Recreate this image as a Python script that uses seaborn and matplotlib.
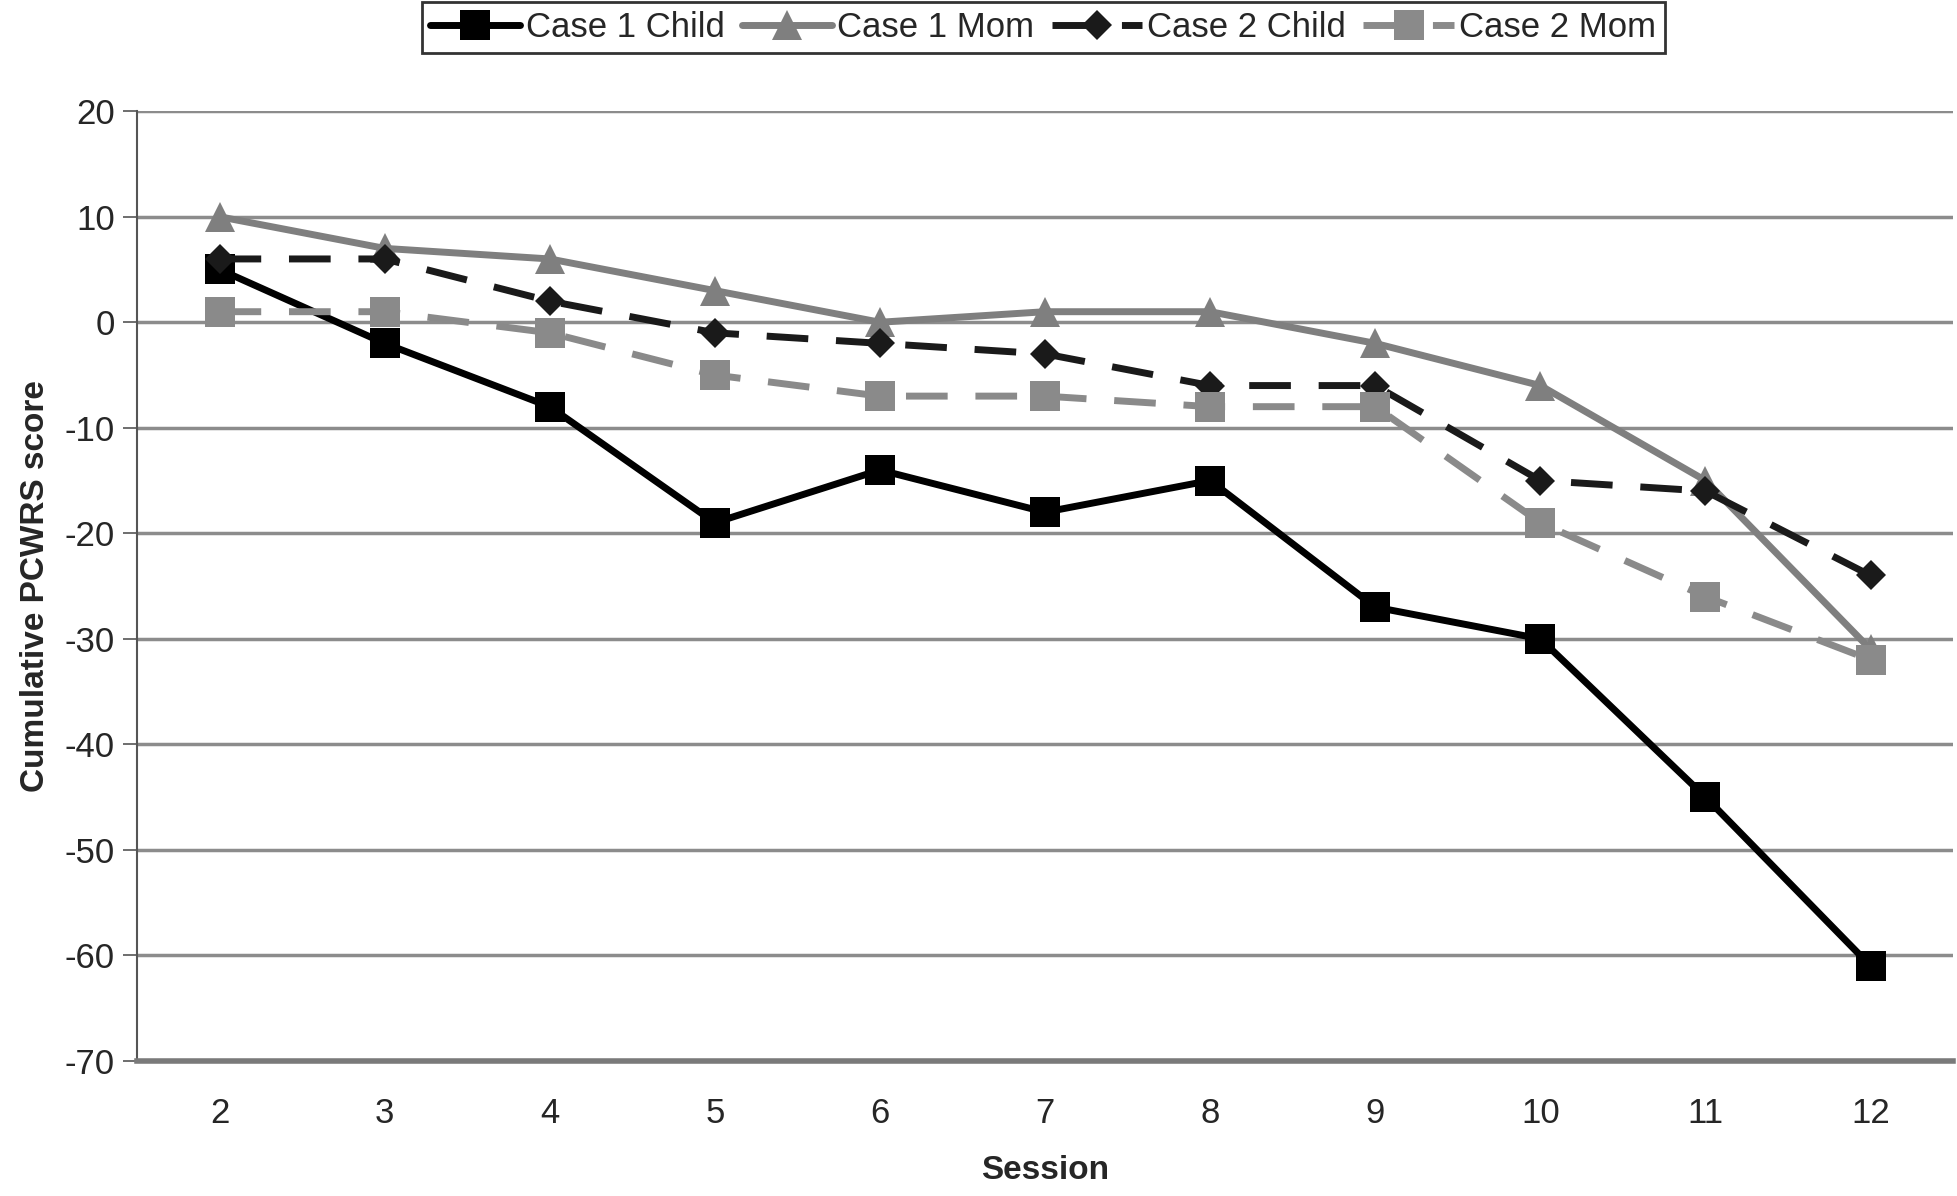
import pandas as pd
import matplotlib
matplotlib.use("Agg")
import matplotlib.pyplot as plt
import seaborn as sns

sessions = [2, 3, 4, 5, 6, 7, 8, 9, 10, 11, 12]
case1_child = [5, -2, -8, -19, -14, -18, -15, -27, -30, -45, -61]
case1_mom = [10, 7, 6, 3, 0, 1, 1, -2, -6, -15, -31]
case2_child = [6, 6, 2, -1, -2, -3, -6, -6, -15, -16, -24]
case2_mom = [1, 1, -1, -5, -7, -7, -8, -8, -19, -26, -32]
series_names = ["Case 1 Child", "Case 1 Mom", "Case 2 Child", "Case 2 Mom"]

rows = []
for name, vals in zip(series_names, [case1_child, case1_mom, case2_child, case2_mom]):
    for s, v in zip(sessions, vals):
        rows.append({"Session": s, "score": v, "series": name})
df = pd.DataFrame(rows)

sns.set_style("white")
plt.rcParams['font.family'] = ['Liberation Sans', 'DejaVu Sans']
plt.rcParams['axes.unicode_minus'] = False

fig = plt.figure(figsize=(19.57, 11.96), dpi=100)
ax = fig.add_axes([0.070, 0.113, 0.928, 0.794])

palette = {"Case 1 Child": "black", "Case 1 Mom": "#7f7f7f",
           "Case 2 Child": "#1a1a1a", "Case 2 Mom": "#8a8a8a"}
markers = {"Case 1 Child": "s", "Case 1 Mom": "^",
           "Case 2 Child": "D", "Case 2 Mom": "s"}
dashes = {"Case 1 Child": "", "Case 1 Mom": "",
          "Case 2 Child": (6, 4), "Case 2 Mom": (6, 4)}

sns.lineplot(data=df, x="Session", y="score", hue="series", style="series",
             palette=palette, markers=markers, dashes=dashes,
             hue_order=series_names, style_order=series_names,
             linewidth=5, markersize=22, markeredgewidth=0, ax=ax, legend=False)

# diamonds drawn a bit smaller
for line in ax.get_lines():
    if line.get_marker() == "D":
        line.set_markersize(15)

ax.set_xlim(1.5, 12.5)
ax.set_ylim(-70, 20)
ax.set_yticks(range(-70, 21, 10))
ax.set_xticks(sessions)
ax.set_xticks([x + 0.5 for x in [1] + sessions], minor=True)
ax.grid(axis="y", color="#8c8c8c", linewidth=2.5)
ax.set_axisbelow(True)
for sp in ["top", "right"]:
    ax.spines[sp].set_visible(False)
ax.spines["left"].set_color("#555555")
ax.spines["left"].set_linewidth(1.5)
ax.spines["bottom"].set_color("#7a7a7a")
ax.spines["bottom"].set_linewidth(4)
ax.tick_params(axis="x", which="major", length=0, labelsize=25, pad=26)
ax.tick_params(axis="x", which="minor", length=12, width=1.2, color="#555555", direction="out")
ax.tick_params(axis="y", length=10, width=1.2, color="#555555", labelsize=25, left=True, pad=6)
ax.set_xlabel("Session", fontsize=24, fontweight="bold", labelpad=18)
ax.set_ylabel("Cumulative PCWRS score", fontsize=24, fontweight="bold", labelpad=10)

handles = ax.get_lines()[:4]
leg = fig.legend(handles, series_names, loc="center", bbox_to_anchor=(0.533, 0.977),
                 ncol=4, fontsize=25, frameon=True, fancybox=False,
                 handlelength=2.6, handletextpad=0.15, columnspacing=0.5,
                 borderpad=0.25)
leg.get_frame().set_edgecolor("black")
leg.get_frame().set_linewidth(2)

fig.savefig("out.png", dpi=100)
